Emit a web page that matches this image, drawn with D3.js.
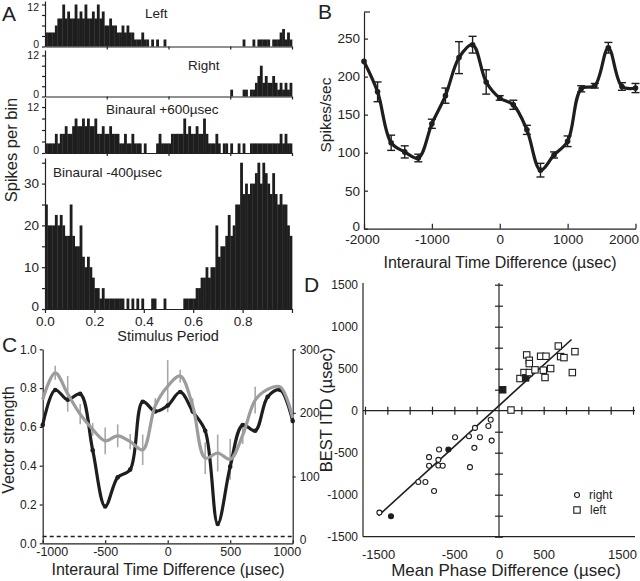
<!DOCTYPE html>
<html><head><meta charset="utf-8">
<script src="https://cdn.jsdelivr.net/npm/d3@7/dist/d3.min.js"></script>
<style>
body{margin:0;background:#fff}
svg{display:block;background:#fff}
text{font-family:"Liberation Sans",Arial,Helvetica,sans-serif;fill:#222}
.ax path,.ax line{stroke:#222;stroke-width:1.2;fill:none}
</style>
</head><body>
<svg id="fig" width="640" height="581"></svg>
<script>
// ---------------- DATA ----------------
// Panel A: peri-stimulus histograms, 100 bins over one stimulus period (spikes per bin)
const histLeft = [4,4,4,4,6,8,8,12,8,10, 8,8,12,8,10,8,12,8,8,10, 8,12,8,10,6,6,8,6,6,4,
  4,6,4,6,4,4,2,2,2,4, 2,2,0,2,0,2,0,0,2,0, 0,0,0,0,0,0,0,0,0,0, 0,0,0,0,0,0,0,0,0,0,
  0,0,0,0,0,0,0,0,0,0, 2,0,0,0,2,0,2,2,2,2, 2,0,2,2,2,4,5,2,4,2];
const histRight = [0,0,0,0,0,0,0,0,0,0, 0,0,0,0,0,0,0,0,0,0, 0,0,0,0,0,0,0,0,0,0,
  0,0,0,0,0,0,0,0,0,0, 0,0,0,0,0,0,0,0,0,0, 0,0,0,0,0,0,0,0,0,0, 0,0,0,0,0,0,0,0,0,0,
  0,0,0,0,0,2,0,0,0,0, 2,2,0,2,2,4,6,9,4,6, 4,4,6,4,2,4,2,4,2,4];
const histPlus600 = [2.5,2.5,2.5,2.5,5,2.5,5,5,7,5, 5,7,9,7,7,9,7,9,7,7, 9,5,5,7,5,5,7,5,5,5,
  2.5,2.5,5,2.5,2.5,5,2.5,2.5,2.5,0, 2.5,0,0,0,0,2.5,5,2.5,2.5,2.5,
  2.5,5,5,5,5,5,9,5,7,5, 5,7,5,5,9,5,2.5,2.5,2.5,5, 2.5,0,2.5,2.5,0,2.5,0,0,2.5,0,
  2.5,0,0,2.5,2.5,2.5,2.5,2.5,2.5,2.5, 2.5,2.5,2.5,2.5,2.5,5,2.5,5,2.5,2.5];
const histMinus400 = [25,20,20,20,22.5,20,22.5,20,17.5,17.5, 25,17.5,15,15,20,12.5,10,12.5,10,7.5,
  5,5,2.5,5,2.5,2.5,2.5,2.5,2.5,2.5, 2.5,2.5,0,2.5,0,2.5,0,2.5,0,2.5,
  0,0,0,2.5,2.5,0,0,0,2.5,0, 0,0,0,0,0,0,2.5,2.5,2.5,2.5,
  2.5,5,5,7.5,7.5,10,7.5,10,10,20, 12.5,15,15,17.5,22.5,17.5,20,25,25,35,
  27.5,30,27.5,30,30,32.5,35,30,35,32.5, 30,27.5,32.5,27.5,25,27.5,25,25,20,17.5];
const histTitles = ["Left","Right","Binaural +600\u00b5sec","Binaural -400\u00b5sec"];
const periodTicks = [0,0.2,0.4,0.6,0.8];

// Panel B: ITD tuning (spikes/sec)
const itdB = [-2000,-1800,-1600,-1400,-1200,-1000,-800,-600,-400,-200,0,200,400,600,800,1000,1200,1400,1600,1800,2000];
const rateB = [220,180,113,101,93,138,175,225,242,193,172,163,130,77,97,115,184,188,238,187,185];
const errB  = [0,13,10,8,5,6,10,21,11,16,3,6,6,9,4,7,4,3,7,5,6];
const ticksBx = [-2000,-1000,0,1000,2000];
const ticksBy = [0,50,100,150,200,250];

// Panel C: vector strength (black, left axis) and rate (grey, right axis)
const itdC = [-1000,-900,-800,-700,-600,-500,-400,-300,-200,-100,0,100,200,300,400,500,600,700,800,900,1000];
const vsC  = [0.61,0.79,0.74,0.77,0.48,0.19,0.34,0.38,0.73,0.68,0.71,0.78,0.68,0.58,0.10,0.395,0.61,0.58,0.755,0.79,0.63];
const rateC = [221,263,230,198,174,156,164,155,142,211,242,258,211,129,137,127,165,220,237,241,192];
const errC  = [0,11,28,16,10,21,18,12,24,12,41,10,12,25,29,32,14,21,0,0,0];
const baselineVS = 0.035;
const ticksCx = [-1000,-500,0,500,1000];
const ticksCl = [0,0.2,0.4,0.6,0.8,1.0];
const ticksCr = [0,100,200,300];

// Panel D: best ITD vs mean phase difference
const rightUnits = [[-1339,-1213,0],[-1209,-1256,1],[-903,-849,0],[-824,-849,0],[-727,-956,0],
  [-783,-553,0],[-783,-656,0],[-679,-585,0],[-671,-462,0],[-679,-652,0],[-630,-656,0],
  [-567,-462,1],[-492,-316,0],[-336,-304,0],[-325,-672,0],[-276,-442,0],[-269,-205,0],
  [-213,-316,0],[-119,-182,0],[-93,-107,0],[-82,-356,0]];
const leftUnits = [[134,8,0],[41,249,1],[235,383,0],[280,454,0],[298,391,1],[310,664,0],
  [339,600,0],[339,561,0],[339,454,0],[403,486,0],[466,648,0],[526,648,0],[496,482,0],
  [515,395,0],[578,502,0],[664,770,0],[690,644,0],[727,632,0],[821,454,0],[850,703,0]];
const fitLine = [[-1350,-1250],[812,848]];
const ticksDmain = [-1500,-1000,-500,0,500,1000,1500];
const ticksDx = [-1500,-500,0,500,1500];
const ticksDminor = [-1500,-1250,-1000,-750,-500,-250,250,500,750,1000,1250,1500];
const legendD = ["right","left"];

// ---------------- DRAW ----------------
const svg = d3.select("#fig");
const ink = "#1e1e1e";
const F = "Liberation Sans, Arial, sans-serif";
const plain = d => String(d);   // hyphen-minus as in the original figure

function panelLetter(t,x,y){ svg.append("text").attr("x",x).attr("y",y).attr("font-size",21).text(t); }

// ===== Panel A =====
panelLetter("A",2,21);
const xA = d3.scaleLinear().domain([0,1]).range([45,292]);
const binW = xA(0.01)-xA(0);
const hp = [
  {data:histLeft,  y0:46.5, top:1,   ppu:3.5,  ticks:[0,3,6,9,12], lab:[0,12], tx:145, ty:18},
  {data:histRight, y0:96.5, top:50,  ppu:3.42, ticks:[0,3,6,9,12], lab:[0,12], tx:188, ty:70},
  {data:histPlus600,y0:153, top:98,  ppu:3.83, ticks:[0,3,6,9,12], lab:[0,12], tx:106, ty:114},
  {data:histMinus400,y0:309,top:158, ppu:4.18, ticks:[0,5,10,15,20,25,30,35], lab:[0,10,20,30], tx:53, ty:177}
];
hp.forEach((p,k)=>{
  const y = d3.scaleLinear().domain([0,(p.y0-p.top)/p.ppu]).range([p.y0,p.top]);
  const g = svg.append("g");
  g.selectAll("rect").data(p.data).join("rect")
    .attr("x",(d,i)=>xA(i/100)).attr("width",binW+0.35)
    .attr("y",d=>y(d)).attr("height",d=>p.y0-y(d)).attr("fill",ink);
  const big = k===3;
  const ay = svg.append("g").attr("class","ax").attr("transform","translate(45,0)")
    .call(d3.axisLeft(y).tickValues(p.ticks).tickSizeInner(3).tickSizeOuter(0).tickPadding(3)
      .tickFormat(d=>p.lab.includes(d)?d:""));
  ay.selectAll("text").attr("font-size",big?13.5:10.5).attr("font-family",F);
  if(!big) ay.selectAll("text").attr("dy",d=>d===0?"0.05em":(k===0?"0.55em":"0.32em"));
  else ay.selectAll("text").attr("dy",d=>d===0?"0.12em":"0.32em");
  const ax = svg.append("g").attr("class","ax").attr("transform",`translate(0,${p.y0})`);
  if(big){
    ax.call(d3.axisBottom(xA).tickValues([0,0.2,0.4,0.6,0.8,1.0]).tickSizeInner(4).tickSizeOuter(0).tickPadding(3)
      .tickFormat(d=>periodTicks.includes(d)?d3.format(".1f")(d):""));
    ax.selectAll("text").attr("font-size",13.5).attr("font-family",F);
  } else {
    ax.call(d3.axisBottom(xA).tickValues([0.25,0.5,0.75,1.0]).tickSizeInner(3).tickSizeOuter(0).tickFormat(""));
  }
  svg.append("text").attr("x",p.tx).attr("y",p.ty).attr("font-size",13.5).text(histTitles[k]);
});
svg.append("text").attr("transform","translate(17,150) rotate(-90)").attr("text-anchor","middle")
  .attr("font-size",16.5).text("Spikes per bin");
svg.append("text").attr("x",168).attr("y",341).attr("text-anchor","middle").attr("font-size",14.5).text("Stimulus Period");

// ===== Panel B =====
panelLetter("B",318,19);
const xB = d3.scaleLinear().domain([-2000,2000]).range([364,635.5]);
const yB = d3.scaleLinear().domain([0,285]).range([228.7,12]);
const gBy = svg.append("g").attr("class","ax").attr("transform","translate(364,0)")
  .call(d3.axisLeft(yB).tickValues(ticksBy).tickSizeInner(-4).tickSizeOuter(0).tickPadding(4));
gBy.selectAll("text").attr("font-size",13.5).attr("font-family",F).attr("dy",d=>d===0?"0.1em":"0.32em");
svg.append("line").attr("x1",364).attr("x2",370).attr("y1",yB(285)).attr("y2",yB(285)).attr("stroke","#222").attr("stroke-width",1.2);
const gBx = svg.append("g").attr("class","ax").attr("transform","translate(0,228.7)")
  .call(d3.axisBottom(xB).tickValues(ticksBx).tickSizeInner(-5).tickSizeOuter(0).tickPadding(6).tickFormat(plain));
gBx.selectAll("text").attr("font-size",13.5).attr("font-family",F).attr("dx",d=>d===2000?-12:(d===-2000?-2:0));
const lineB = d3.line().x((d,i)=>xB(itdB[i])).y(d=>yB(d)).curve(d3.curveCatmullRom.alpha(0.5));
const gBe = svg.append("g").attr("stroke",ink).attr("stroke-width",1.4);
rateB.forEach((v,i)=>{
  if(!errB[i]) return;
  const x=xB(itdB[i]), y1=yB(v-errB[i]), y2=yB(v+errB[i]);
  gBe.append("line").attr("x1",x).attr("x2",x).attr("y1",y1).attr("y2",y2);
  gBe.append("line").attr("x1",x-4).attr("x2",x+4).attr("y1",y1).attr("y2",y1);
  gBe.append("line").attr("x1",x-4).attr("x2",x+4).attr("y1",y2).attr("y2",y2);
});
svg.append("path").datum(rateB).attr("d",lineB).attr("fill","none").attr("stroke",ink).attr("stroke-width",3.2);
svg.append("g").selectAll("circle").data(rateB).join("circle")
  .attr("cx",(d,i)=>xB(itdB[i])).attr("cy",d=>yB(d)).attr("r",2.8).attr("fill",ink);
svg.append("text").attr("x",500).attr("y",268).attr("text-anchor","middle").attr("font-size",16)
  .text("Interaural Time Difference (\u00b5sec)");
svg.append("text").attr("transform","translate(331,115) rotate(-90)").attr("text-anchor","middle")
  .attr("font-size",15.5).text("Spikes/sec");

// ===== Panel C =====
panelLetter("C",2,352);
const xC = d3.scaleLinear().domain([-1000,1000]).range([42.7,292.7]);
const yCL = d3.scaleLinear().domain([0,1]).range([543.3,349.3]);
const yCR = d3.scaleLinear().domain([-5,300]).range([543.3,349.3]);
const gCl = svg.append("g").attr("class","ax").attr("transform","translate(42.7,0)")
  .call(d3.axisLeft(yCL).tickValues(ticksCl).tickSizeInner(3).tickSizeOuter(0).tickPadding(3).tickFormat(d3.format(".1f")));
gCl.selectAll("text").attr("font-size",12).attr("font-family",F);
const gCr = svg.append("g").attr("class","ax").attr("transform","translate(292.7,0)")
  .call(d3.axisRight(yCR).tickValues(ticksCr).tickSizeInner(3).tickSizeOuter(0).tickPadding(4));
gCr.selectAll("text").attr("font-size",12).attr("font-family",F);
gCr.selectAll(".tick line").attr("x2",d=>d===0?0:3);
const gCx = svg.append("g").attr("class","ax").attr("transform","translate(0,543.3)")
  .call(d3.axisBottom(xC).tickValues(ticksCx).tickSizeInner(-3).tickSizeOuter(0).tickPadding(4).tickFormat(plain));
gCx.selectAll("text").attr("font-size",12.5).attr("font-family",F).attr("dx",d=>d===-1000?9:(d===1000?-6:0));
svg.append("line").attr("x1",xC(-1000)).attr("x2",xC(1000)).attr("y1",yCL(baselineVS)).attr("y2",yCL(baselineVS))
  .attr("stroke",ink).attr("stroke-width",1.3).attr("stroke-dasharray","4,3");
const gCe = svg.append("g").attr("stroke","#a8a8a8").attr("stroke-width",1.6);
rateC.forEach((v,i)=>{
  if(!errC[i]) return;
  gCe.append("line").attr("x1",xC(itdC[i])).attr("x2",xC(itdC[i])).attr("y1",yCR(v-errC[i])).attr("y2",yCR(v+errC[i]));
});
const lineCL = d3.line().x((d,i)=>xC(itdC[i])).y(d=>yCL(d)).curve(d3.curveCatmullRom.alpha(0.5));
const lineCR = d3.line().x((d,i)=>xC(itdC[i])).y(d=>yCR(d)).curve(d3.curveCatmullRom.alpha(0.5));
svg.append("path").datum(vsC).attr("d",lineCL).attr("fill","none").attr("stroke",ink).attr("stroke-width",3.2);
svg.append("g").selectAll("circle").data(vsC).join("circle")
  .attr("cx",(d,i)=>xC(itdC[i])).attr("cy",d=>yCL(d)).attr("r",2.3).attr("fill",ink);
svg.append("path").datum(rateC).attr("d",lineCR).attr("fill","none").attr("stroke","#9c9c9c").attr("stroke-width",3.2);
svg.append("text").attr("x",168).attr("y",575).attr("text-anchor","middle").attr("font-size",16)
  .text("Interaural Time Difference (\u00b5sec)");
svg.append("text").attr("transform","translate(14,440) rotate(-90)").attr("text-anchor","middle")
  .attr("font-size",16).text("Vector strength");

// ===== Panel D =====
panelLetter("D",304,292);
const xD = d3.scaleLinear().domain([-1500,1500]).range([365,633]);
const yD = d3.scaleLinear().domain([-1500,1500]).range([536.7,284.7]);
const gDl = svg.append("g").attr("class","ax").attr("transform","translate(363,0)")
  .call(d3.axisLeft(yD).tickValues(ticksDmain).tickSizeInner(0).tickSizeOuter(0).tickPadding(5).tickFormat(plain));
gDl.select(".domain").attr("d","M0,283V536.7");
gDl.selectAll("text").attr("font-size",12).attr("font-family",F);
const gDb = svg.append("g").attr("class","ax").attr("transform","translate(0,536.7)")
  .call(d3.axisBottom(xD).tickValues(ticksDx).tickSizeInner(0).tickSizeOuter(0).tickPadding(13).tickFormat(plain));
gDb.select(".domain").attr("d","M363,0H635");
gDb.selectAll("text").attr("font-size",13).attr("font-family",F).attr("dx",d=>d===-1500?13:(d===1500?-11:0));
// crossing axes through origin
const gDv = svg.append("g").attr("class","ax").attr("transform",`translate(${xD(0)},0)`)
  .call(d3.axisLeft(yD).tickValues(ticksDminor).tickSizeInner(4).tickSizeOuter(0).tickFormat(""));
gDv.select(".domain").attr("d","M0,283V536.7");
gDv.selectAll(".tick line").attr("x1",4).attr("x2",-4);
const gDh = svg.append("g").attr("class","ax").attr("transform",`translate(0,${yD(0)})`)
  .call(d3.axisBottom(xD).tickValues(ticksDminor).tickSizeInner(4).tickSizeOuter(0).tickFormat(""));
gDh.select(".domain").attr("d","M363,0H635");
gDh.selectAll(".tick line").attr("y1",-4).attr("y2",4);
svg.append("line").attr("x1",xD(fitLine[0][0])).attr("y1",yD(fitLine[0][1])).attr("x2",xD(fitLine[1][0])).attr("y2",yD(fitLine[1][1]))
  .attr("stroke",ink).attr("stroke-width",1.6);
svg.append("g").selectAll("circle").data(rightUnits).join("circle")
  .attr("cx",d=>xD(d[0])).attr("cy",d=>yD(d[1])).attr("r",2.5)
  .attr("fill",d=>d[2]?ink:"#fff").attr("stroke",ink).attr("stroke-width",1.1);
svg.append("g").selectAll("rect").data(leftUnits).join("rect")
  .attr("x",d=>xD(d[0])-3.2).attr("y",d=>yD(d[1])-3.2).attr("width",6.4).attr("height",6.4)
  .attr("fill",d=>d[2]?ink:"#fff").attr("stroke",ink).attr("stroke-width",1.1);
// legend
svg.append("circle").attr("cx",577).attr("cy",495).attr("r",2.5).attr("fill","#fff").attr("stroke",ink).attr("stroke-width",1.1);
svg.append("rect").attr("x",573.8).attr("y",506.8).attr("width",6.4).attr("height",6.4).attr("fill","#fff").attr("stroke",ink).attr("stroke-width",1.1);
svg.append("text").attr("x",589).attr("y",499).attr("font-size",12).text(legendD[0]);
svg.append("text").attr("x",590).attr("y",514).attr("font-size",12).text(legendD[1]);
svg.append("text").attr("x",506).attr("y",576).attr("text-anchor","middle").attr("font-size",17)
  .text("Mean Phase Difference (\u00b5sec)");
svg.append("text").attr("transform","translate(332,410) rotate(-90)").attr("text-anchor","middle")
  .attr("font-size",16.5).text("BEST ITD (\u00b5sec)");
</script>
</body></html>
